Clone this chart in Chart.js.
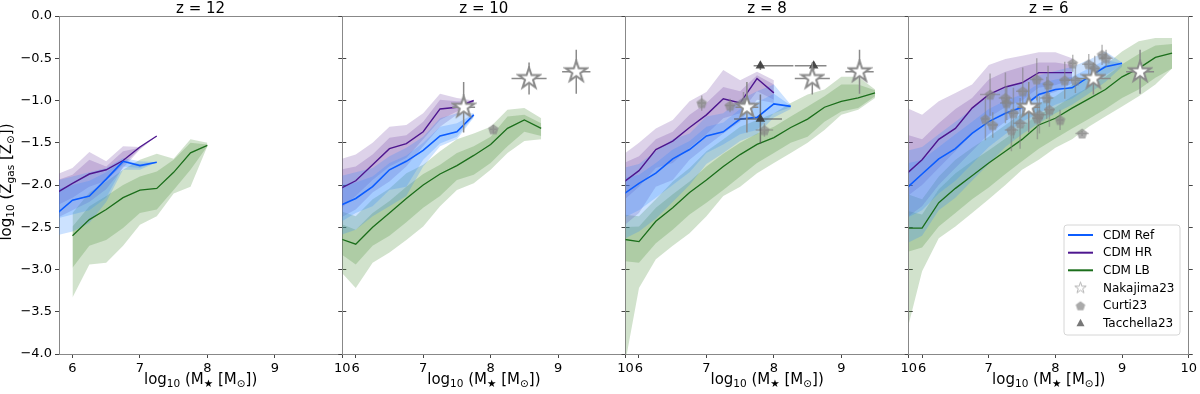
<!DOCTYPE html>
<html>
<head>
<meta charset="utf-8">
<script src="https://cdn.jsdelivr.net/npm/chart.js@4.4.0/dist/chart.umd.min.js"></script>
<style>
  body { margin: 0; background: #fff; }
  #wrap { position: relative; width: 1200px; height: 394px; }
  #wrap canvas { position: absolute; left: 0; top: 0; }
</style>
</head>
<body>
<div id="wrap">
  <canvas id="p0" width="1200" height="394"></canvas>
  <canvas id="p1" width="1200" height="394"></canvas>
  <canvas id="p2" width="1200" height="394"></canvas>
  <canvas id="p3" width="1200" height="394"></canvas>
</div>
<script>
// ---- axis setup ----
const xTicks = [6, 7, 8, 9, 10];
const yTicks = [0, -0.5, -1, -1.5, -2, -2.5, -3, -3.5, -4];
const panelTitles = ['z = 12', 'z = 10', 'z = 8', 'z = 6'];
const legendLabels = ['CDM Ref', 'CDM HR', 'CDM LB', 'Nakajima23', 'Curti23', 'Tacchella23'];

// ---- z = 12 ----
const ref12_x   = [5.75, 6, 6.25, 6.5, 6.75, 7, 7.25];
const ref12_med = [-2.35, -2.18, -2.13, -1.93, -1.72, -1.77, -1.73];
const ref12_hi2 = [-1.95, -1.9, -1.85, -1.8, -1.68, -1.72, -1.73];
const ref12_hi1 = [-2.05, -2.0, -1.95, -1.85, -1.7, -1.75, -1.73];
const ref12_lo1 = [-2.4, -2.35, -2.3, -2.15, -1.78, -1.8, -1.73];
const ref12_lo2 = [-2.6, -2.55, -2.45, -2.2, -1.82, -1.82, -1.73];

const hr12_x   = [5.75, 6, 6.25, 6.5, 6.75, 7, 7.25];
const hr12_med = [-2.1, -1.98, -1.87, -1.82, -1.71, -1.55, -1.42];
const hr12_hi2 = [-1.88, -1.8, -1.61, -1.72, -1.54, -1.55, -1.42];
const hr12_hi1 = [-1.95, -1.88, -1.7, -1.78, -1.6, -1.56, -1.42];
const hr12_lo1 = [-2.25, -2.15, -2.02, -1.95, -1.76, -1.57, -1.42];
const hr12_lo2 = [-2.4, -2.3, -2.2, -2.05, -1.8, -1.58, -1.42];

const lb12_x   = [6, 6.25, 6.5, 6.75, 7, 7.25, 7.5, 7.75, 8];
const lb12_med = [-2.6, -2.41, -2.29, -2.15, -2.06, -2.04, -1.85, -1.62, -1.53];
const lb12_hi2 = [-2.33, -2.09, -1.96, -1.82, -1.7, -1.63, -1.69, -1.46, -1.5];
const lb12_hi1 = [-2.49, -2.25, -2.13, -2.0, -1.9, -1.84, -1.7, -1.5, -1.52];
const lb12_lo1 = [-2.98, -2.72, -2.65, -2.51, -2.33, -2.29, -2.06, -1.82, -1.54];
const lb12_lo2 = [-3.33, -2.94, -2.92, -2.72, -2.47, -2.37, -2.1, -2.02, -1.54];

// ---- z = 10 ----
const ref10_x   = [5.75, 6, 6.25, 6.5, 6.75, 7, 7.25, 7.5, 7.75];
const ref10_med = [-2.25, -2.16, -2.02, -1.82, -1.72, -1.59, -1.42, -1.37, -1.17];
const ref10_hi2 = [-1.9, -1.85, -1.8, -1.66, -1.56, -1.43, -1.21, -1.15, -1.15];
const ref10_hi1 = [-2.0, -1.97, -1.9, -1.74, -1.65, -1.5, -1.31, -1.27, -1.16];
const ref10_lo1 = [-2.45, -2.33, -2.25, -2.06, -2.02, -1.7, -1.51, -1.43, -1.19];
const ref10_lo2 = [-2.6, -2.53, -2.37, -2.25, -2.13, -1.78, -1.54, -1.46, -1.2];

const hr10_x   = [5.75, 6, 6.25, 6.5, 6.75, 7, 7.25, 7.5, 7.75];
const hr10_med = [-2.05, -1.95, -1.76, -1.57, -1.51, -1.37, -1.1, -1.08, -1.0];
const hr10_hi2 = [-1.7, -1.64, -1.5, -1.31, -1.29, -1.15, -0.92, -0.97, -1.0];
const hr10_hi1 = [-1.82, -1.78, -1.64, -1.44, -1.41, -1.25, -0.99, -1.01, -1.01];
const hr10_lo1 = [-2.3, -2.13, -1.94, -1.78, -1.68, -1.46, -1.23, -1.13, -1.02];
const hr10_lo2 = [-2.4, -2.29, -2.09, -1.96, -1.78, -1.54, -1.31, -1.17, -1.03];

const lb10_x   = [5.75, 6, 6.25, 6.5, 6.75, 7, 7.25, 7.5, 7.75, 8, 8.25, 8.5, 8.75];
const lb10_med = [-2.63, -2.7, -2.5, -2.33, -2.16, -2.0, -1.87, -1.77, -1.65, -1.52, -1.33, -1.23, -1.33];
const lb10_hi2 = [-2.3, -2.37, -2.17, -2.04, -1.86, -1.76, -1.6, -1.46, -1.39, -1.31, -1.11, -1.09, -1.21];
const lb10_hi1 = [-2.45, -2.53, -2.33, -2.19, -2.02, -1.87, -1.76, -1.62, -1.54, -1.43, -1.19, -1.17, -1.27];
const lb10_lo1 = [-2.8, -2.94, -2.72, -2.6, -2.44, -2.27, -2.13, -1.94, -1.88, -1.74, -1.54, -1.37, -1.42];
const lb10_lo2 = [-3.0, -3.22, -2.92, -2.8, -2.65, -2.49, -2.25, -2.06, -1.98, -1.82, -1.62, -1.48, -1.46];

// ---- z = 8 ----
const ref8_x   = [5.75, 6, 6.25, 6.5, 6.75, 7, 7.25, 7.5, 7.75, 8, 8.25];
const ref8_med = [-2.12, -1.98, -1.86, -1.69, -1.58, -1.42, -1.37, -1.22, -1.2, -1.04, -1.07];
const ref8_hi2 = [-1.8, -1.75, -1.6, -1.46, -1.39, -1.19, -1.15, -0.99, -0.89, -0.81, -1.05];
const ref8_hi1 = [-1.92, -1.88, -1.74, -1.58, -1.48, -1.31, -1.26, -1.1, -1.02, -0.92, -1.06];
const ref8_lo1 = [-2.4, -2.3, -2.15, -2.0, -1.85, -1.62, -1.52, -1.4, -1.35, -1.15, -1.08];
const ref8_lo2 = [-2.65, -2.55, -2.4, -2.2, -2.0, -1.75, -1.62, -1.48, -1.4, -1.2, -1.1];

const hr8_x   = [5.75, 6, 6.25, 6.5, 6.75, 7, 7.25, 7.5, 7.75, 8];
const hr8_med = [-1.98, -1.83, -1.58, -1.48, -1.32, -1.17, -0.98, -1.03, -0.74, -0.91];
const hr8_hi2 = [-1.65, -1.5, -1.33, -1.23, -1.01, -0.9, -0.64, -0.76, -0.66, -0.76];
const hr8_hi1 = [-1.75, -1.66, -1.46, -1.37, -1.17, -1.03, -0.84, -0.89, -0.7, -0.81];
const hr8_lo1 = [-2.2, -2.02, -1.8, -1.74, -1.56, -1.4, -1.21, -1.15, -0.89, -0.99];
const hr8_lo2 = [-2.5, -2.33, -2.02, -1.94, -1.7, -1.54, -1.39, -1.25, -0.99, -1.03];

const lb8_x   = [5.75, 6, 6.25, 6.5, 6.75, 7, 7.25, 7.5, 7.75, 8, 8.25, 8.5, 8.75, 9, 9.25, 9.5];
const lb8_med = [-2.64, -2.67, -2.43, -2.27, -2.09, -1.94, -1.78, -1.64, -1.52, -1.44, -1.32, -1.22, -1.08, -1.01, -0.97, -0.91];
const lb8_hi2 = [-2.35, -2.37, -2.17, -1.96, -1.8, -1.6, -1.46, -1.31, -1.23, -1.15, -1.03, -0.93, -0.87, -0.72, -0.72, -0.87];
const lb8_hi1 = [-2.5, -2.49, -2.27, -2.11, -1.96, -1.78, -1.63, -1.5, -1.39, -1.31, -1.19, -1.07, -0.95, -0.81, -0.81, -0.88];
const lb8_lo1 = [-2.9, -2.92, -2.69, -2.53, -2.35, -2.21, -2.06, -1.9, -1.74, -1.62, -1.5, -1.43, -1.25, -1.13, -1.09, -0.95];
const lb8_lo2 = [-4.3, -3.22, -2.88, -2.72, -2.57, -2.37, -2.13, -2.02, -1.86, -1.74, -1.62, -1.5, -1.35, -1.17, -1.11, -0.97];

// ---- z = 6 ----
const ref6_x   = [5.75, 6, 6.25, 6.5, 6.75, 7, 7.25, 7.5, 7.75, 8, 8.25, 8.5, 8.75, 9];
const ref6_med = [-2.05, -1.87, -1.69, -1.57, -1.39, -1.25, -1.15, -1.08, -0.93, -0.87, -0.85, -0.72, -0.6, -0.56];
const ref6_hi2 = [-1.6, -1.55, -1.4, -1.25, -1.1, -0.95, -0.85, -0.8, -0.7, -0.65, -0.6, -0.52, -0.42, -0.55];
const ref6_hi1 = [-1.75, -1.7, -1.55, -1.4, -1.25, -1.1, -1.0, -0.93, -0.8, -0.75, -0.72, -0.62, -0.52, -0.56];
const ref6_lo1 = [-2.4, -2.3, -2.1, -1.95, -1.75, -1.55, -1.4, -1.25, -1.15, -1.05, -0.98, -0.85, -0.7, -0.58];
const ref6_lo2 = [-2.7, -2.6, -2.3, -2.15, -1.95, -1.75, -1.55, -1.4, -1.27, -1.15, -1.05, -0.92, -0.78, -0.6];

const hr6_x   = [5.75, 6, 6.25, 6.5, 6.75, 7, 7.25, 7.5, 7.75, 8, 8.25];
const hr6_med = [-1.88, -1.7, -1.46, -1.33, -1.09, -0.93, -0.84, -0.79, -0.67, -0.67, -0.67];
const hr6_hi2 = [-1.08, -1.17, -1.01, -0.91, -0.81, -0.58, -0.51, -0.47, -0.43, -0.43, -0.5];
const hr6_hi1 = [-1.4, -1.46, -1.27, -1.1, -0.97, -0.75, -0.66, -0.6, -0.55, -0.55, -0.58];
const hr6_lo1 = [-2.15, -2.0, -1.8, -1.6, -1.4, -1.2, -1.08, -1.0, -0.85, -0.82, -0.75];
const hr6_lo2 = [-2.4, -2.25, -2.0, -1.8, -1.6, -1.4, -1.25, -1.1, -0.95, -0.9, -0.8];

const lb6_x   = [5.75, 6, 6.25, 6.5, 6.75, 7, 7.25, 7.5, 7.75, 8, 8.25, 8.5, 8.75, 9, 9.25, 9.5, 9.75];
const lb6_med = [-2.51, -2.51, -2.21, -2.04, -1.89, -1.74, -1.6, -1.46, -1.29, -1.21, -1.09, -0.98, -0.87, -0.72, -0.62, -0.49, -0.44];
const lb6_hi2 = [-2.1, -2.17, -1.9, -1.7, -1.56, -1.43, -1.29, -1.15, -1.03, -0.95, -0.81, -0.7, -0.58, -0.42, -0.3, -0.26, -0.26];
const lb6_hi1 = [-2.3, -2.35, -2.05, -1.86, -1.72, -1.59, -1.45, -1.31, -1.16, -1.08, -0.95, -0.84, -0.72, -0.57, -0.45, -0.35, -0.33];
const lb6_lo1 = [-2.8, -2.74, -2.49, -2.33, -2.17, -2.03, -1.87, -1.72, -1.57, -1.45, -1.33, -1.22, -1.1, -0.97, -0.87, -0.73, -0.62];
const lb6_lo2 = [-3.8, -3.02, -2.63, -2.49, -2.33, -2.17, -2.0, -1.82, -1.7, -1.56, -1.46, -1.31, -1.19, -1.07, -0.95, -0.81, -0.62];

// ---- observations ----
const nak_x    = [7.6, 8.57, 9.27];
const nak_y    = [-1.08, -0.74, -0.66];
const nak_xerr = [0.17, 0.26, 0.21];
const nak_yerr = [0.3, 0.19, 0.26];

const curti10_x = [8.04];
const curti10_y = [-1.34];
const curti10_xerr = [0.05];
const curti10_yerr = [0.05];

const curti8_x = [6.93, 7.35, 7.55, 7.86];
const curti8_y = [-1.03, -1.06, -1.02, -1.35];
const curti8_xerr = [0.06, 0.08, 0.1, 0.13];
const curti8_yerr = [0.09, 0.08, 0.12, 0.08];

const curti6_x = [7.02, 7.25, 7.27, 7.51, 7.72, 7.89, 7.87, 7.91, 7.76, 7.73, 8.07, 7.47, 7.34, 6.95, 7.06, 8.14, 8.3, 8.26, 8.5, 8.59, 8.7, 8.76, 8.4, 7.37];
const curti6_y = [-0.93, -0.97, -1.03, -0.89, -0.75, -0.81, -0.97, -1.11, -1.17, -1.21, -1.23, -1.27, -1.35, -1.22, -1.29, -0.76, -0.76, -0.56, -0.57, -0.62, -0.46, -0.5, -1.39, -1.15];
const curti6_xerr = [0.15, 0.1, 0.1, 0.1, 0.1, 0.08, 0.1, 0.08, 0.1, 0.08, 0.05, 0.1, 0.1, 0.05, 0.08, 0.08, 0.1, 0.05, 0.1, 0.08, 0.05, 0.1, 0.1, 0.08];
const curti6_yerr = [0.25, 0.3, 0.2, 0.28, 0.25, 0.22, 0.25, 0.2, 0.22, 0.25, 0.12, 0.3, 0.25, 0.25, 0.15, 0.22, 0.15, 0.1, 0.12, 0.15, 0.12, 0.1, 0.03, 0.3];

const tac8_x = [7.8, 7.8, 8.59];
const tac8_y = [-0.59, -1.22, -0.59];
const tac8_xlo = [0.1, 0.39, 0.28];
const tac8_xhi = [0.49, 0.32, 0.19];
const tac8_yerr = [0.05, 0.29, 0.05];

// ---- look ----
const FONT = '"DejaVu Sans", sans-serif';
const REF_LINE = '#0b5cff', REF_BAND = 'rgba(50,140,255,0.25)';
const HR_LINE = '#4e168f', HR_BAND = 'rgba(110,60,160,0.23)';
const LB_LINE = '#1b6e1b', LB_BAND = 'rgba(70,140,50,0.25)';
const SPINE = '#888888', TICK = '#444444';

const plotLeft = 59, plotRight = 1192, plotTop = 16, plotBottom = 354;
const panelW = (plotRight - plotLeft) / 4;

Chart.defaults.font.family = FONT;
Chart.defaults.color = '#000';

//Marker images, drawn once and handed to chart.js as point styles.
function starImg(r, stroke, lw) {
  const s = Math.ceil(2 * r + lw + 2);
  const c = document.createElement('canvas');
  c.width = c.height = s;
  const g = c.getContext('2d');
  g.translate(s / 2, s / 2);
  g.beginPath();
  for (let k = 0; k < 10; k++) {
    const a = -Math.PI / 2 + k * Math.PI / 5;
    const rr = k % 2 === 0 ? r : r * 0.382;
    g.lineTo(rr * Math.cos(a), rr * Math.sin(a));
  }
  g.closePath();
  g.fillStyle = '#fff';
  g.fill();
  g.strokeStyle = stroke;
  g.lineWidth = lw;
  g.stroke();
  return c;
}
function pentImg(r, fill) {
  const s = Math.ceil(2 * r + 2);
  const c = document.createElement('canvas');
  c.width = c.height = s;
  const g = c.getContext('2d');
  g.translate(s / 2, s / 2 + 0.5);
  g.beginPath();
  for (let k = 0; k < 5; k++) {
    const a = -Math.PI / 2 + k * 2 * Math.PI / 5;
    g.lineTo(r * Math.cos(a), r * Math.sin(a));
  }
  g.closePath();
  g.fillStyle = fill;
  g.fill();
  return c;
}
const starBig = starImg(11, '#8a8a8a', 2);
const starSmall = starImg(6, '#b5b5b5', 1);
const pentBig = pentImg(5.5, 'rgba(135,135,135,0.7)');
const pentSmall = pentImg(5, '#aaaaaa');

const pts = (xs, ys) => xs.map((x, i) => ({ x: x, y: ys[i] }));

//Two shaded bands (outer + inner) and the median line for one run.
function runSets(xs, med, lo2, lo1, hi1, hi2, lineColor, bandColor, lw) {
  const edge = { borderWidth: 0, borderColor: 'transparent', pointRadius: 0, tension: 0, order: 5 };
  return [
    Object.assign({ data: pts(xs, lo2), fill: false }, edge),
    Object.assign({ data: pts(xs, hi2), fill: '-1', backgroundColor: bandColor }, edge),
    Object.assign({ data: pts(xs, lo1), fill: false }, edge),
    Object.assign({ data: pts(xs, hi1), fill: '-1', backgroundColor: bandColor }, edge),
    { data: pts(xs, med), borderColor: lineColor, borderWidth: lw, pointRadius: 0, fill: false, tension: 0, order: 3 }
  ];
}

function obsSet(xs, ys, xlo, xhi, yerr, style, errColor, order, radius, color) {
  return {
    data: pts(xs, ys), showLine: false, pointStyle: style, pointRadius: radius || 5,
    backgroundColor: color || 'rgba(80,80,80,0.85)', borderColor: color || 'rgba(80,80,80,0.85)', borderWidth: 0,
    errXm: xlo, errXp: xhi, errY: yerr, errColor: errColor, order: order
  };
}

//Error bars are drawn under each observation set, through the chart's own scales.
const errorBars = {
  id: 'errorBars',
  beforeDatasetDraw(chart, args) {
    const ds = chart.data.datasets[args.index];
    if (!ds.errY) return;
    const ctx = chart.ctx, xs = chart.scales.x, ys = chart.scales.y, a = chart.chartArea;
    ctx.save();
    ctx.beginPath();
    ctx.rect(a.left, a.top, a.right - a.left, a.bottom - a.top);
    ctx.clip();
    ctx.strokeStyle = ds.errColor;
    ctx.lineWidth = 1.5;
    ds.data.forEach((p, i) => {
      const px = xs.getPixelForValue(p.x), py = ys.getPixelForValue(p.y);
      ctx.beginPath();
      ctx.moveTo(xs.getPixelForValue(p.x - ds.errXm[i]), py);
      ctx.lineTo(xs.getPixelForValue(p.x + ds.errXp[i]), py);
      ctx.moveTo(px, ys.getPixelForValue(p.y - ds.errY[i]));
      ctx.lineTo(px, ys.getPixelForValue(p.y + ds.errY[i]));
      ctx.stroke();
    });
    ctx.restore();
  }
};

//Text with subscripts: parts = [[text, isSub], ...]
function richWidth(ctx, parts, size) {
  let w = 0;
  parts.forEach(p => {
    ctx.font = (p[1] ? size * 0.7 : size) + 'px ' + FONT;
    w += ctx.measureText(p[0]).width;
  });
  return w;
}
function drawRich(ctx, parts, cx, baseY, size) {
  let x = cx - richWidth(ctx, parts, size) / 2;
  ctx.textAlign = 'left';
  ctx.textBaseline = 'alphabetic';
  parts.forEach(p => {
    ctx.font = (p[1] ? size * 0.7 : size) + 'px ' + FONT;
    ctx.fillText(p[0], x, baseY + (p[1] ? size * 0.22 : 0));
    x += ctx.measureText(p[0]).width;
  });
}
const xLabelParts = [['log', 0], ['10', 1], [' (M', 0], ['\u2605', 1], [' [M', 0], ['\u2299', 1], ['])', 0]];
const yLabelParts = [['log', 0], ['10', 1], [' (Z', 0], ['gas', 1], [' [Z', 0], ['\u2299', 1], ['])', 0]];

const panelText = {
  id: 'panelText',
  afterDraw(chart, args, opts) {
    const ctx = chart.ctx, a = chart.chartArea;
    const cx = (a.left + a.right) / 2;
    ctx.save();
    ctx.fillStyle = '#000';
    ctx.font = '15px ' + FONT;
    ctx.textAlign = 'center';
    ctx.textBaseline = 'alphabetic';
    ctx.fillText(opts.title, cx, 12.5);
    drawRich(ctx, xLabelParts, cx, 384, 15);
    if (opts.yLabel) {
      ctx.save();
      ctx.translate(11, 182);
      ctx.rotate(-Math.PI / 2);
      drawRich(ctx, yLabelParts, 0, 0, 15);
      ctx.restore();
    }
    if (opts.legend) drawLegend(ctx);
    ctx.restore();
  }
};

function drawLegend(ctx) {
  const x0 = 1064, y0 = 225, w = 116, h = 110, r = 3;
  ctx.beginPath();
  ctx.moveTo(x0 + r, y0);
  ctx.arcTo(x0 + w, y0, x0 + w, y0 + h, r);
  ctx.arcTo(x0 + w, y0 + h, x0, y0 + h, r);
  ctx.arcTo(x0, y0 + h, x0, y0, r);
  ctx.arcTo(x0, y0, x0 + w, y0, r);
  ctx.closePath();
  ctx.fillStyle = 'rgba(255,255,255,0.8)';
  ctx.fill();
  ctx.strokeStyle = '#d6d6d6';
  ctx.lineWidth = 1;
  ctx.stroke();
  const rows = [235, 252.7, 270.3, 288, 305.7, 323.3];
  const lineCols = [REF_LINE, HR_LINE, LB_LINE];
  ctx.lineWidth = 2;
  lineCols.forEach((c, i) => {
    ctx.strokeStyle = c;
    ctx.beginPath();
    ctx.moveTo(1068, rows[i]);
    ctx.lineTo(1093, rows[i]);
    ctx.stroke();
  });
  ctx.drawImage(starSmall, 1080.5 - starSmall.width / 2, rows[3] - starSmall.height / 2);
  ctx.drawImage(pentSmall, 1080.5 - pentSmall.width / 2, rows[4] - pentSmall.height / 2);
  ctx.fillStyle = '#777';
  ctx.beginPath();
  ctx.moveTo(1080.5, rows[5] - 4.5);
  ctx.lineTo(1084.5, rows[5] + 3);
  ctx.lineTo(1076.5, rows[5] + 3);
  ctx.closePath();
  ctx.fill();
  ctx.fillStyle = '#000';
  ctx.font = '12px ' + FONT;
  ctx.textAlign = 'left';
  ctx.textBaseline = 'middle';
  legendLabels.forEach((t, i) => ctx.fillText(t, 1103, rows[i] + 0.5));
}

function makePanel(idx, datasets) {
  const left = plotLeft + idx * panelW;
  const right = left + panelW;
  const yLabelW = idx === 0 ? plotLeft : 0;
  const hidden = { display: false };
  new Chart(document.getElementById('p' + idx), {
    type: 'line',
    data: { datasets: datasets },
    plugins: [errorBars, panelText],
    options: {
      responsive: false,
      animation: false,
      events: [],
      layout: { padding: { left: left - yLabelW, right: 1200 - right, top: plotTop, bottom: 0 } },
      plugins: {
        legend: hidden,
        tooltip: { enabled: false },
        panelText: { title: panelTitles[idx], yLabel: idx === 0, legend: idx === 3 }
      },
      scales: {
        x: {
          type: 'linear', position: 'bottom', min: 5.8, max: 10,
          afterBuildTicks: s => { s.ticks = xTicks.map(v => ({ value: v })); },
          afterFit: s => { s.height = 394 - plotBottom; },
          ticks: { font: { size: 13 }, padding: 3, maxRotation: 0, callback: v => String(v) },
          grid: { drawOnChartArea: false, tickLength: 4, color: TICK },
          border: { color: SPINE, width: 1 }
        },
        x2: {
          type: 'linear', position: 'top', min: 5.8, max: 10,
          afterFit: s => { s.height = 0; },
          ticks: hidden,
          grid: { drawOnChartArea: false, drawTicks: false },
          border: { color: SPINE, width: 1 }
        },
        y: {
          type: 'linear', position: 'left', min: -4, max: 0,
          afterBuildTicks: s => { s.ticks = yTicks.map(v => ({ value: v })); },
          afterFit: s => { s.width = yLabelW; },
          ticks: { display: idx === 0, font: { size: 13 }, padding: 3, callback: v => v.toFixed(1).replace('-', '\u2212') },
          grid: { drawOnChartArea: false, tickLength: 4, color: TICK },
          border: { color: SPINE, width: 1 }
        },
        y2: {
          type: 'linear', position: 'right', min: -4, max: 0,
          afterBuildTicks: s => { s.ticks = yTicks.map(v => ({ value: v })); },
          afterFit: s => { s.width = 0; },
          ticks: hidden,
          grid: { drawOnChartArea: false, tickLength: 4, color: TICK },
          border: { color: SPINE, width: 1 }
        }
      }
    }
  });
}

const nakSet = () => obsSet(nak_x, nak_y, nak_xerr, nak_xerr, nak_yerr, starBig, '#8a8a8a', 0);

makePanel(0, [].concat(
  runSets(ref12_x, ref12_med, ref12_lo2, ref12_lo1, ref12_hi1, ref12_hi2, REF_LINE, REF_BAND, 1.6),
  runSets(hr12_x, hr12_med, hr12_lo2, hr12_lo1, hr12_hi1, hr12_hi2, HR_LINE, HR_BAND, 1.4),
  runSets(lb12_x, lb12_med, lb12_lo2, lb12_lo1, lb12_hi1, lb12_hi2, LB_LINE, LB_BAND, 1.3)
));

makePanel(1, [].concat(
  runSets(ref10_x, ref10_med, ref10_lo2, ref10_lo1, ref10_hi1, ref10_hi2, REF_LINE, REF_BAND, 1.6),
  runSets(hr10_x, hr10_med, hr10_lo2, hr10_lo1, hr10_hi1, hr10_hi2, HR_LINE, HR_BAND, 1.4),
  runSets(lb10_x, lb10_med, lb10_lo2, lb10_lo1, lb10_hi1, lb10_hi2, LB_LINE, LB_BAND, 1.3),
  [obsSet(curti10_x, curti10_y, curti10_xerr, curti10_xerr, curti10_yerr, pentBig, 'rgba(128,128,128,0.55)', 1),
   nakSet()]
));

makePanel(2, [].concat(
  runSets(ref8_x, ref8_med, ref8_lo2, ref8_lo1, ref8_hi1, ref8_hi2, REF_LINE, REF_BAND, 1.6),
  runSets(hr8_x, hr8_med, hr8_lo2, hr8_lo1, hr8_hi1, hr8_hi2, HR_LINE, HR_BAND, 1.4),
  runSets(lb8_x, lb8_med, lb8_lo2, lb8_lo1, lb8_hi1, lb8_hi2, LB_LINE, LB_BAND, 1.3),
  [obsSet(curti8_x, curti8_y, curti8_xerr, curti8_xerr, curti8_yerr, pentBig, 'rgba(128,128,128,0.55)', 2),
   obsSet(tac8_x, tac8_y, tac8_xlo, tac8_xhi, tac8_yerr, 'triangle', 'rgba(85,85,85,0.7)', 1, 5.5, 'rgba(60,60,60,0.9)'),
   nakSet()]
));

makePanel(3, [].concat(
  runSets(ref6_x, ref6_med, ref6_lo2, ref6_lo1, ref6_hi1, ref6_hi2, REF_LINE, REF_BAND, 1.6),
  runSets(hr6_x, hr6_med, hr6_lo2, hr6_lo1, hr6_hi1, hr6_hi2, HR_LINE, HR_BAND, 1.4),
  runSets(lb6_x, lb6_med, lb6_lo2, lb6_lo1, lb6_hi1, lb6_hi2, LB_LINE, LB_BAND, 1.3),
  [obsSet(curti6_x, curti6_y, curti6_xerr, curti6_xerr, curti6_yerr, pentBig, 'rgba(128,128,128,0.55)', 1),
   nakSet()]
));
</script>
</body>
</html>
